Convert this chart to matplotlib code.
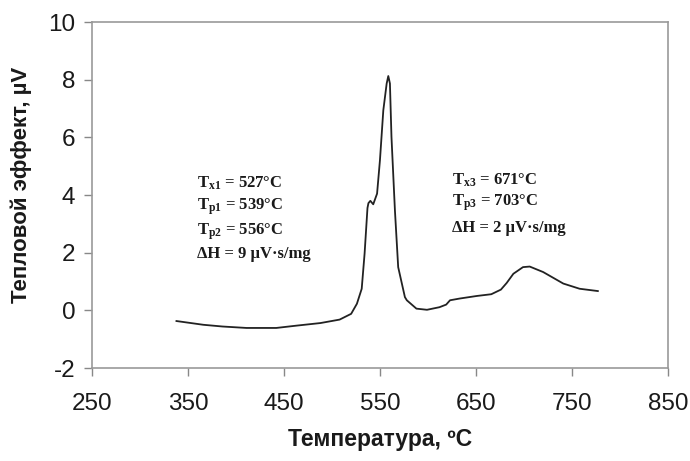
import matplotlib
matplotlib.use("Agg")
import matplotlib.pyplot as plt

temp = [338, 366, 386, 411, 442, 463, 488, 508, 520, 526, 531, 534, 537, 538,
        540, 543, 547, 550, 553.5, 557, 558.7, 560.4, 562, 565.6, 569, 576,
        578, 588, 599, 612, 619, 623, 633, 651, 666, 676, 682, 689, 699, 706,
        720, 741, 758, 777]
signal = [-0.37, -0.50, -0.56, -0.61, -0.61, -0.53, -0.44, -0.32, -0.12, 0.23,
          0.75, 1.97, 3.55, 3.72, 3.80, 3.68, 4.05, 5.21, 6.94, 7.87, 8.13,
          7.87, 6.02, 3.47, 1.50, 0.46, 0.35, 0.06, 0.02, 0.11, 0.20, 0.35,
          0.41, 0.50, 0.56, 0.72, 0.95, 1.27, 1.50, 1.52, 1.33, 0.93, 0.75,
          0.67]

xticks = [250, 350, 450, 550, 650, 750, 850]
yticks = [-2, 0, 2, 4, 6, 8, 10]

left_notes = [r"T$_{\mathrm{x1}}$ = 527°C", r"T$_{\mathrm{p1}}$ = 539°C",
              r"T$_{\mathrm{p2}}$ = 556°C", "ΔH = 9 µV·s/mg"]
right_notes = [r"T$_{\mathrm{x3}}$ = 671°C", r"T$_{\mathrm{p3}}$ = 703°C",
               "ΔH = 2 µV·s/mg"]

plt.rcParams["font.family"] = ["Liberation Sans", "DejaVu Sans"]
plt.rcParams["axes.unicode_minus"] = False
plt.rcParams["mathtext.fontset"] = "custom"
plt.rcParams["mathtext.rm"] = "Liberation Serif:bold"
plt.rcParams["mathtext.it"] = "Liberation Serif:bold"
plt.rcParams["mathtext.bf"] = "Liberation Serif:bold"

fig = plt.figure(figsize=(6.9, 4.61), dpi=100)
ax = fig.add_axes([0.1333, 0.2017, 0.8347, 0.7503])

ax.plot(temp, signal, color="#222222", lw=1.3)

ax.set_xlim(250, 850)
ax.set_ylim(-2, 10)
ax.set_xticks(xticks)
ax.set_yticks(yticks)
ax.tick_params(labelsize=17.5, length=6, width=1, color="#888888",
               labelcolor="#1a1a1a")
ax.tick_params(axis="x", pad=12)
ax.tick_params(axis="y", pad=6)
for s in ax.spines.values():
    s.set_color("#999999")
    s.set_linewidth(1.2)

ax.set_xlabel("Температура, ºC", fontsize=16.5, fontweight="bold",
              color="#1a1a1a", labelpad=9)
ax.set_ylabel("Тепловой эффект, µV", fontsize=16, fontweight="bold",
              color="#1a1a1a")
ax.yaxis.set_label_coords(-0.105, 0.53)

for txt, yy in zip(left_notes, [4.41, 3.61, 2.74, 1.94]):
    ax.text(359, yy, txt, fontsize=12, fontweight="bold",
            family="Liberation Serif", va="center", ha="left", color="#1a1a1a")
for txt, yy in zip(right_notes, [4.51, 3.72, 2.85]):
    ax.text(625, yy, txt, fontsize=12, fontweight="bold",
            family="Liberation Serif", va="center", ha="left", color="#1a1a1a")

fig.savefig("out.png", dpi=100)
